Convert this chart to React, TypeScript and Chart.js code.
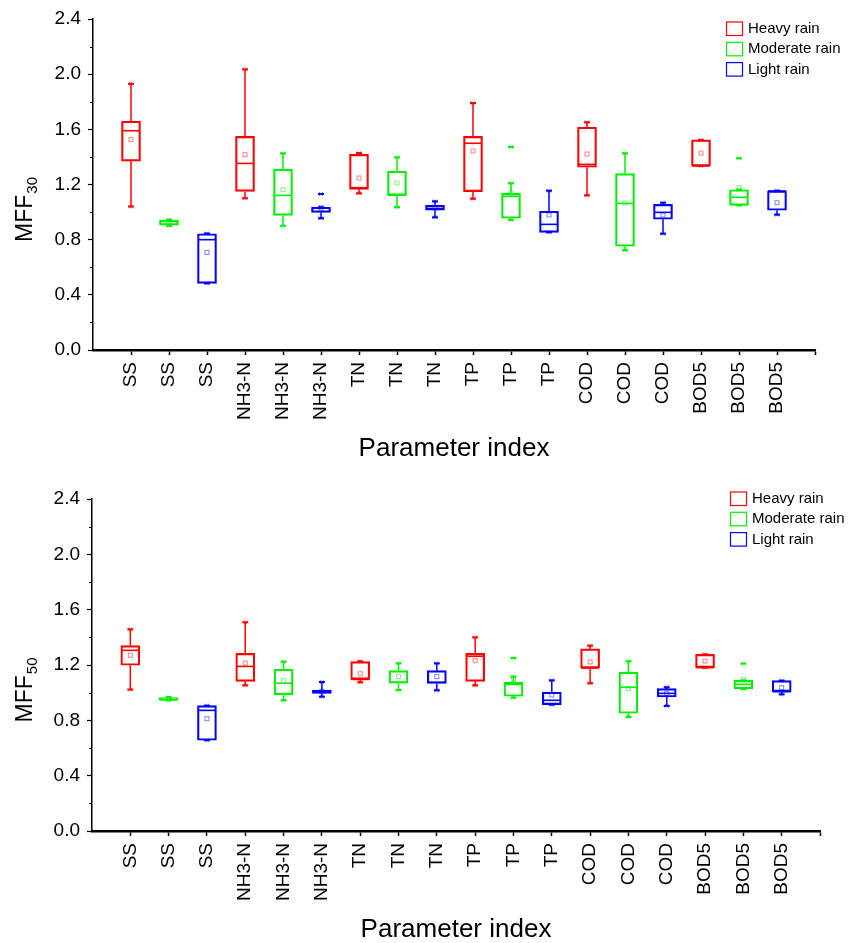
import React, { useEffect, useRef } from 'react';
import { Chart, registerables } from 'chart.js';

Chart.register(...registerables);

// Parameter of each box, in drawing order (three rain classes per parameter)
const categories = [
  'SS', 'SS', 'SS', 'NH3-N', 'NH3-N', 'NH3-N', 'TN', 'TN', 'TN',
  'TP', 'TP', 'TP', 'COD', 'COD', 'COD', 'BOD5', 'BOD5', 'BOD5',
];
const seriesLabels = ['Heavy rain', 'Moderate rain', 'Light rain'];

// MFF30 box statistics, one value per category above
const mff30Low = [1.04, 0.9, 0.483, 1.1, 0.9, 0.955, 1.136, 1.035, 0.962, 1.097, 0.943, 0.853, 1.121, 0.723, 0.843, 1.334, 1.049, 0.981];
const mff30Q1 = [1.37, 0.905, 0.483, 1.15, 0.976, 0.998, 1.165, 1.117, 1.013, 1.148, 0.955, 0.853, 1.325, 0.752, 0.948, 1.334, 1.049, 1.013];
const mff30Median = [1.59, 0.935, 0.8, 1.353, 1.121, 1.03, 1.177, 1.129, 1.025, 1.499, 1.114, 0.911, 1.346, 1.063, 0.998, 1.334, 1.107, 1.153];
const mff30Q3 = [1.66, 0.94, 0.843, 1.549, 1.312, 1.035, 1.419, 1.296, 1.049, 1.549, 1.136, 1.006, 1.615, 1.279, 1.056, 1.523, 1.162, 1.153];
const mff30High = [1.93, 0.945, 0.845, 2.035, 1.426, 1.035, 1.428, 1.397, 1.078, 1.791, 1.209, 1.155, 1.651, 1.426, 1.068, 1.523, 1.162, 1.155];
const mff30Mean = [1.525, 0.925, 0.708, 1.416, 1.162, 1.03, 1.247, 1.211, 1.03, 1.443, 1.14, 0.979, 1.421, 1.065, 0.979, 1.428, 1.177, 1.068];
const mff30Outlier = [null, null, null, null, null, 1.131, null, null, null, null, 1.472, null, null, null, null, null, 1.39, null];

// MFF50 box statistics
const mff50Low = [1.022, 0.945, 0.656, 1.053, 0.945, 0.971, 1.075, 1.019, 1.017, 1.053, 0.964, 0.913, 1.068, 0.824, 0.904, 1.181, 1.027, 0.988];
const mff50Q1 = [1.198, 0.945, 0.656, 1.082, 0.986, 0.995, 1.096, 1.068, 1.066, 1.082, 0.974, 0.913, 1.178, 0.851, 0.969, 1.181, 1.027, 1.007];
const mff50Median = [1.306, 0.948, 0.872, 1.19, 1.068, 1.012, 1.096, 1.075, 1.075, 1.263, 1.06, 0.945, 1.178, 1.039, 0.995, 1.181, 1.06, 1.007];
const mff50Q3 = [1.34, 0.964, 0.906, 1.284, 1.169, 1.019, 1.224, 1.159, 1.159, 1.284, 1.075, 1.003, 1.316, 1.149, 1.029, 1.277, 1.089, 1.087];
const mff50High = [1.458, 0.968, 0.906, 1.509, 1.224, 1.077, 1.227, 1.212, 1.212, 1.4, 1.116, 1.089, 1.34, 1.227, 1.039, 1.277, 1.089, 1.087];
const mff50Mean = [1.27, 0.958, 0.812, 1.214, 1.087, 1.01, 1.137, 1.116, 1.116, 1.231, 1.097, 0.983, 1.222, 1.03, 0.993, 1.229, 1.096, 1.036];
const mff50Outlier = [null, null, null, null, null, null, null, null, null, null, 1.251, null, null, null, null, null, 1.21, null];

const seriesColors = ['#ff0000', '#00f000', '#0000ff'];
const FONT = "'Liberation Sans', Arial, Helvetica, sans-serif";

type Stats = {
  low: number[]; q1: number[]; median: number[]; q3: number[];
  high: number[]; mean: number[]; outlier: (number | null)[];
};

function line(ctx: CanvasRenderingContext2D, x1: number, y1: number, x2: number, y2: number) {
  ctx.beginPath();
  ctx.moveTo(x1, y1);
  ctx.lineTo(x2, y2);
  ctx.stroke();
}

function cross(ctx: CanvasRenderingContext2D, x: number, y: number, r: number) {
  line(ctx, x - r, y - r, x + r, y + r);
  line(ctx, x - r, y + r, x + r, y - r);
}

// Whiskers, caps, medians, means and extreme markers on top of the box bars
const boxDecorPlugin = {
  id: 'boxDecor',
  afterDatasetsDraw(chart: any, _args: any, opts: any) {
    const { ctx } = chart;
    const xs = chart.scales.x;
    const ys = chart.scales.y;
    const st: Stats = opts.stats;
    const half = opts.boxHalf;
    ctx.save();
    for (let i = 0; i < categories.length; i++) {
      const color = seriesColors[i % 3];
      const cx = xs.getPixelForValue(i);
      const yLow = ys.getPixelForValue(st.low[i]);
      const yQ1 = ys.getPixelForValue(st.q1[i]);
      const yMed = ys.getPixelForValue(st.median[i]);
      const yQ3 = ys.getPixelForValue(st.q3[i]);
      const yHigh = ys.getPixelForValue(st.high[i]);
      const yMean = ys.getPixelForValue(st.mean[i]);
      ctx.strokeStyle = color;
      ctx.globalAlpha = 1;
      ctx.lineWidth = 1.5;
      if (yHigh < yQ3 - 0.5) line(ctx, cx, yQ3, cx, yHigh);
      if (yLow > yQ1 + 0.5) line(ctx, cx, yQ1, cx, yLow);
      ctx.lineWidth = 2;
      line(ctx, cx - 3, yHigh, cx + 3, yHigh);
      line(ctx, cx - 3, yLow, cx + 3, yLow);
      ctx.lineWidth = 1.6;
      line(ctx, cx - half, yMed, cx + half, yMed);
      ctx.globalAlpha = 0.5;
      ctx.lineWidth = 1;
      ctx.strokeRect(cx - 2, yMean - 2, 4, 4);
      cross(ctx, cx, yHigh, 2);
      cross(ctx, cx, yLow, 2);
      const o = st.outlier[i];
      if (o !== null && o !== undefined) {
        const yo = ys.getPixelForValue(o);
        ctx.globalAlpha = 1;
        ctx.lineWidth = 2;
        line(ctx, cx - 3, yo, cx + 3, yo);
        ctx.globalAlpha = 0.5;
        ctx.lineWidth = 1;
        cross(ctx, cx, yo, 2);
      }
    }
    ctx.restore();
  },
};

// Minor y ticks, rotated y title with subscript, and the boxed legend
const frameDecorPlugin = {
  id: 'frameDecor',
  afterDraw(chart: any, _args: any, opts: any) {
    const { ctx, chartArea } = chart;
    const ys = chart.scales.y;
    ctx.save();
    ctx.strokeStyle = '#000';
    ctx.lineWidth = 1;
    ys.ticks.forEach((t: any, idx: number) => {
      if (idx % 2 === 1) {
        const py = Math.round(ys.getPixelForValue(t.value)) + 0.5;
        line(ctx, chartArea.left - 3, py, chartArea.left, py);
      }
    });

    // y title: MFF with subscript
    const midY = (chartArea.top + chartArea.bottom) / 2 + opts.titleShift;
    ctx.fillStyle = '#000';
    ctx.translate(opts.titleBaseX, midY);
    ctx.rotate(-Math.PI / 2);
    ctx.font = `23px ${FONT}`;
    ctx.textAlign = 'left';
    ctx.textBaseline = 'alphabetic';
    const mainW = ctx.measureText(opts.titleMain).width;
    const subFont = `15px ${FONT}`;
    ctx.font = subFont;
    const subW = ctx.measureText(opts.titleSub).width;
    const start = -(mainW + subW + 1) / 2;
    ctx.font = `23px ${FONT}`;
    ctx.fillText(opts.titleMain, start, 0);
    ctx.font = subFont;
    ctx.fillText(opts.titleSub, start + mainW + 1, 5);
    ctx.setTransform(1, 0, 0, 1, 0, 0);

    // legend
    ctx.font = `15px ${FONT}`;
    ctx.textBaseline = 'middle';
    ctx.lineWidth = 1.2;
    seriesLabels.forEach((label, s) => {
      const top = opts.legendY + s * 20.3;
      ctx.strokeStyle = seriesColors[s];
      ctx.strokeRect(opts.legendX + 0.5, top + 0.5, 16, 13.5);
      ctx.fillStyle = '#000';
      ctx.fillText(label, opts.legendX + 22, top + 7.5);
    });
    ctx.restore();
  },
};

type Panel = {
  height: number;
  stats: Stats;
  sub: string;
  padTop: number;
  padRight: number;
  yWidth: number;
  xHeight: number;
  titleShift: number;
  legendX: number;
  legendY: number;
};

function buildConfig(p: Panel): any {
  const datasets = seriesLabels.map((label, s) => ({
    type: 'bar',
    label,
    data: categories
      .map((_, i) => i)
      .filter((i) => i % 3 === s)
      .map((i) => ({ x: i, y: [p.stats.q1[i], p.stats.q3[i]] })),
    backgroundColor: 'rgba(0,0,0,0)',
    borderColor: seriesColors[s],
    borderWidth: 1.5,
    borderSkipped: false,
    barThickness: 19,
    grouped: false,
  }));

  return {
    type: 'bar',
    data: { datasets },
    options: {
      responsive: false,
      animation: false,
      devicePixelRatio: 1,
      layout: { padding: { top: p.padTop, right: p.padRight, left: 0, bottom: 0 } },
      plugins: {
        legend: { display: false },
        tooltip: { enabled: false },
        boxDecor: { stats: p.stats, boxHalf: 9 },
        frameDecor: {
          titleMain: 'MFF',
          titleSub: p.sub,
          titleBaseX: 31.5,
          titleShift: p.titleShift,
          legendX: p.legendX,
          legendY: p.legendY,
        },
      },
      scales: {
        x: {
          type: 'linear',
          min: -1,
          max: 18,
          offset: false,
          afterFit: (scale: any) => { scale.height = p.xHeight; },
          afterBuildTicks: (scale: any) => {
            scale.ticks = Array.from({ length: 20 }, (_, k) => ({ value: k - 1 }));
          },
          border: { display: true, color: '#000', width: 2.5 },
          grid: {
            offset: false,
            drawOnChartArea: false,
            drawTicks: true,
            tickLength: 5,
            tickWidth: 1.5,
            tickColor: (c: any) => (c.tick && c.tick.value === -1 ? 'rgba(0,0,0,0)' : '#000'),
          },
          ticks: {
            autoSkip: false,
            maxRotation: 90,
            minRotation: 90,
            padding: 7,
            color: '#000',
            font: { family: FONT, size: 19 },
            callback: (v: number) => (Number.isInteger(v) && v >= 0 && v < categories.length ? categories[v] : ''),
          },
          title: {
            display: true,
            text: 'Parameter index',
            color: '#000',
            font: { family: FONT, size: 26 },
            padding: { top: 0, bottom: 6 },
          },
        },
        y: {
          min: 0,
          max: 2.4,
          afterFit: (scale: any) => { scale.width = p.yWidth; },
          border: { display: true, color: '#000', width: 1.5 },
          grid: {
            drawOnChartArea: false,
            drawTicks: true,
            tickLength: 5,
            tickWidth: 1.2,
            tickColor: (c: any) => (c.index % 2 === 0 ? '#000' : 'rgba(0,0,0,0)'),
          },
          ticks: {
            stepSize: 0.2,
            padding: 7,
            color: '#000',
            font: { family: FONT, size: 19 },
            callback: (v: number, idx: number) => (idx % 2 === 0 ? Number(v).toFixed(1) : ''),
          },
        },
      },
    },
    plugins: [boxDecorPlugin, frameDecorPlugin],
  };
}

const topPanel: Panel = {
  height: 470,
  stats: { low: mff30Low, q1: mff30Q1, median: mff30Median, q3: mff30Q3, high: mff30High, mean: mff30Mean, outlier: mff30Outlier },
  sub: '30',
  padTop: 19,
  padRight: 44,
  yWidth: 93,
  xHeight: 120,
  titleShift: 25,
  legendX: 726,
  legendY: 21.5,
};

const bottomPanel: Panel = {
  height: 481,
  stats: { low: mff50Low, q1: mff50Q1, median: mff50Median, q3: mff50Q3, high: mff50High, mean: mff50Mean, outlier: mff50Outlier },
  sub: '50',
  padTop: 29,
  padRight: 39,
  yWidth: 92,
  xHeight: 120,
  titleShift: 25,
  legendX: 730,
  legendY: 21.5,
};

function BoxPanel({ panel }: { panel: Panel }) {
  const ref = useRef<HTMLCanvasElement | null>(null);
  useEffect(() => {
    if (!ref.current) return;
    const chart = new Chart(ref.current, buildConfig(panel));
    return () => chart.destroy();
  }, [panel]);
  return <canvas ref={ref} width={859} height={panel.height} style={{ display: 'block', width: 859, height: panel.height }} />;
}

export default function App() {
  return (
    <div style={{ position: 'absolute', left: 0, top: 0, width: 859, height: 943, overflow: 'hidden', background: '#fff' }}>
      <BoxPanel panel={topPanel} />
      <BoxPanel panel={bottomPanel} />
    </div>
  );
}
